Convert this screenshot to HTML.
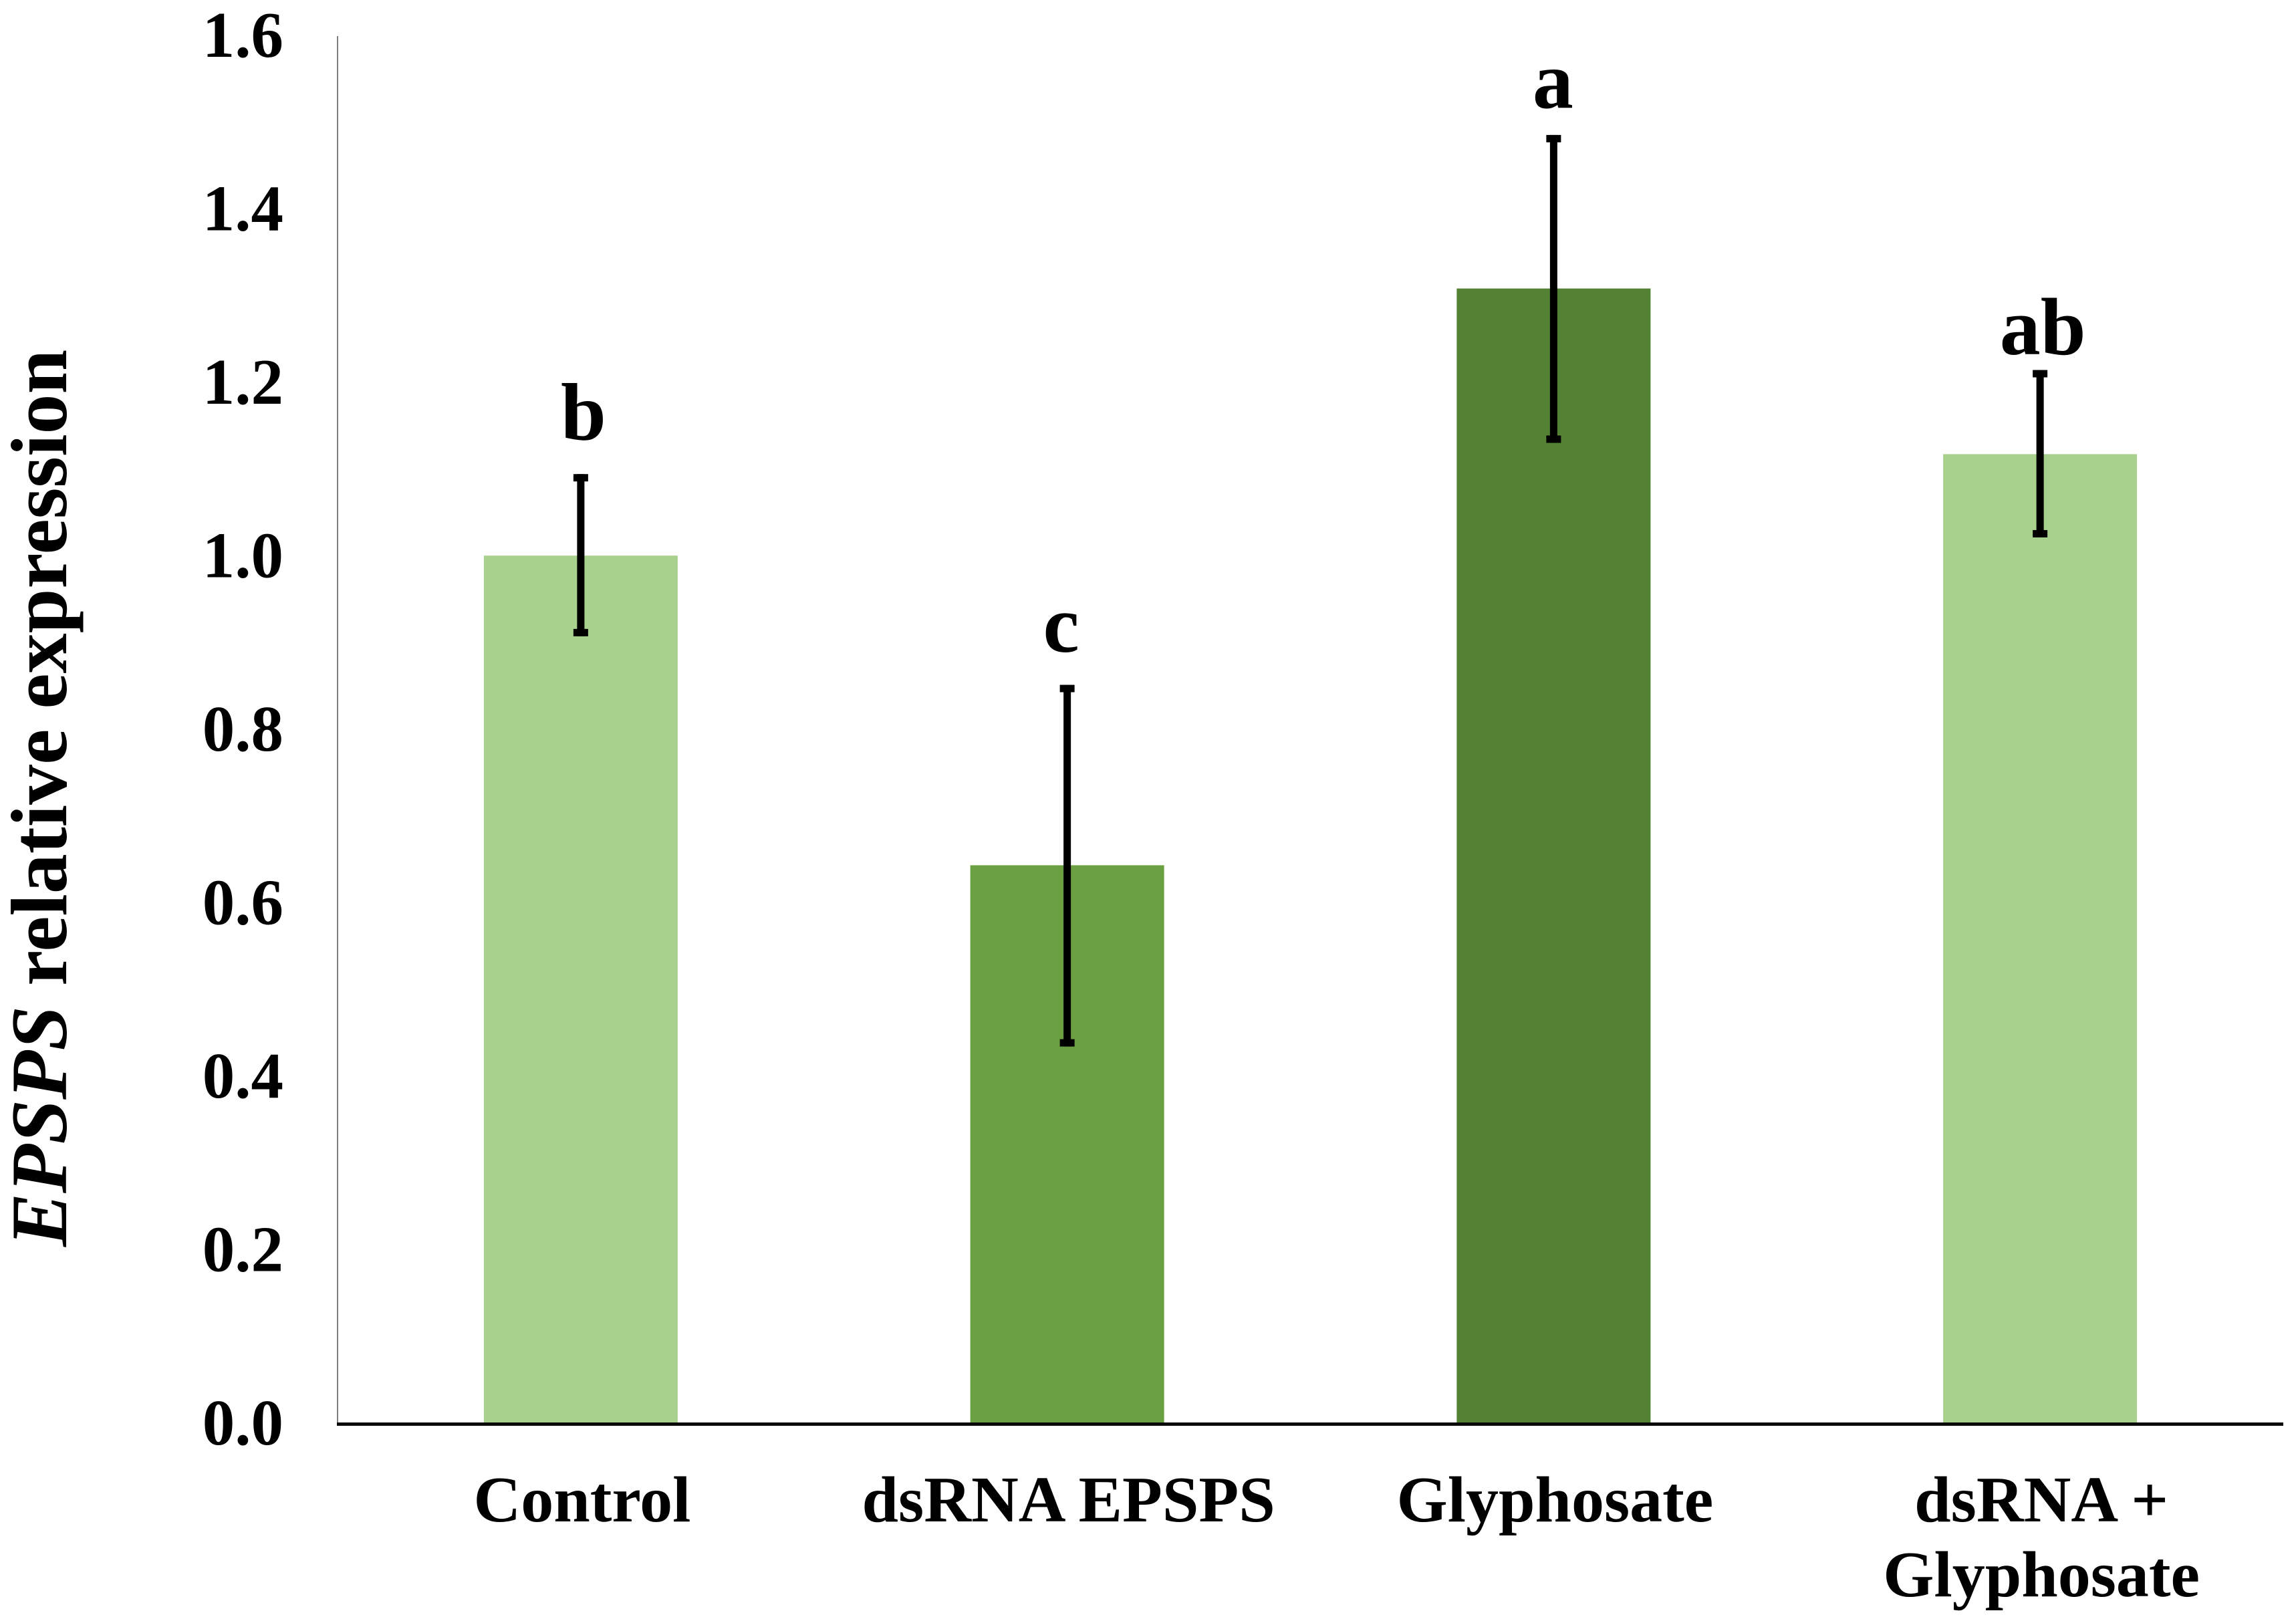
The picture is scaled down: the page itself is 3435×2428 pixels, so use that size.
<!DOCTYPE html>
<html lang="en">
<head>
<meta charset="utf-8">
<title>EPSPS relative expression</title>
<style>
html,body{margin:0;padding:0;background:#fff;width:3435px;height:2428px;overflow:hidden}
svg{display:block}
text{font-family:"Liberation Serif",serif;font-weight:700;fill:#000}
</style>
</head>
<body>
<svg id="chart" xmlns="http://www.w3.org/2000/svg" width="3435" height="2428" viewBox="0 0 3435 2428">
  <rect x="0" y="0" width="3435" height="2428" fill="#ffffff"/>
  <text transform="translate(99,1865) rotate(-90)" font-size="120"><tspan font-style="italic">EPSPS</tspan> relative expression</text>
</svg>
<script>
const categories = [["Control"], ["dsRNA EPSPS"], ["Glyphosate"], ["dsRNA +", "Glyphosate"]];
const slugs = ["control", "dsrna-epsps", "glyphosate", "dsrna-glyphosate"];
const means = [1.001, 0.644, 1.309, 1.118];
const errorUpper = [1.095, 0.852, 1.486, 1.215];
const errorLower = [0.908, 0.435, 1.131, 1.022];
const letters = ["b", "c", "a", "ab"];
const letterAnchors = [1.135, 0.89, 1.517, 1.233];
const tickValues = [0, 0.2, 0.4, 0.6, 0.8, 1.0, 1.2, 1.4, 1.6];
const barFills = ["#a9d18e", "#6aa042", "#548235", "#a9d18e"];

const svg = document.getElementById('chart');
const NS = 'http://www.w3.org/2000/svg';
const plot = {left: 505, right: 3416, top: 54, bottom: 2130, yMax: 1.6};
const yScale = v => plot.bottom - (v / plot.yMax) * (plot.bottom - plot.top);
const band = (plot.right - plot.left) / categories.length;
const xCenter = i => plot.left + band * (i + 0.5);
const BAR_W = 290, STEM_W = 11, CAP_W = 22, CAP_H = 11;
const letterNudge = {b: 4, c: -9, a: -1, ab: 4};

function make(tag, attrs) {
  const el = document.createElementNS(NS, tag);
  for (const k in attrs) el.setAttribute(k, attrs[k]);
  return el;
}

// bars
categories.forEach((c, i) => {
  const y = yScale(means[i]);
  const bar = make('rect', {x: xCenter(i) - BAR_W / 2, y: y, width: BAR_W, height: plot.bottom - y, fill: barFills[i]});
  
  
  svg.appendChild(bar);
});

// axes
const yAxis = make('rect', {x: plot.left - 1, y: plot.top, width: 2, height: plot.bottom - plot.top + 3, fill: '#7f7f7f'});


svg.appendChild(yAxis);

const xAxis = make('rect', {x: plot.left - 1, y: plot.bottom - 2, width: plot.right - plot.left + 1, height: 5, fill: '#0a0a0a'});


svg.appendChild(xAxis);

// error bars
categories.forEach((c, i) => {
  const cx = xCenter(i);
  const yTop = yScale(errorUpper[i]);
  const yBot = yScale(errorLower[i]);
  const stem = make('rect', {x: cx - STEM_W / 2, y: yTop, width: STEM_W, height: yBot - yTop, fill: '#000'});
  
  
  svg.appendChild(stem);
  const capTop = make('rect', {x: cx - CAP_W / 2, y: yTop, width: CAP_W, height: CAP_H, fill: '#000'});
  
  
  svg.appendChild(capTop);
  const capBot = make('rect', {x: cx - CAP_W / 2, y: yBot - CAP_H, width: CAP_W, height: CAP_H, fill: '#000'});
  
  
  svg.appendChild(capBot);

  const letter = make('text', {x: cx + letterNudge[letters[i]], y: yScale(letterAnchors[i]), 'text-anchor': 'middle', 'font-size': 122});
  
  
  letter.textContent = letters[i];
  svg.appendChild(letter);

  c.forEach((line, j) => {
    const label = make('text', {x: cx + 2, y: 2276 + j * 112, 'text-anchor': 'middle', 'font-size': 98});
    
    
    label.textContent = line;
    svg.appendChild(label);
  });
});

// y tick labels
tickValues.forEach(v => {
  const t = make('text', {x: 424, y: yScale(v) + 31, 'text-anchor': 'end', 'font-size': 97});
  
  
  t.textContent = v.toFixed(1);
  svg.appendChild(t);
});
</script>
</body>
</html>
